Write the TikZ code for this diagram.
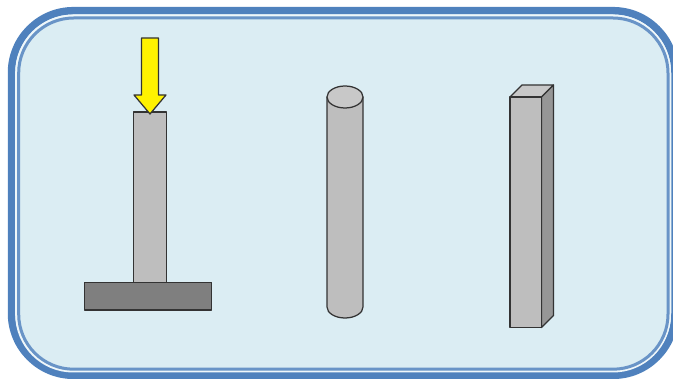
\documentclass[tikz,border=0pt]{standalone}
\begin{document}
\begin{tikzpicture}[x=1pt,y=-1pt,
  edge/.style={draw=black!80,line width=1.25pt,line join=round},
  part/.style={edge,fill=barGray}]
\definecolor{barGray}{HTML}{BEBEBE}
\definecolor{topGray}{HTML}{C8C8C8}
\definecolor{sideGray}{HTML}{969696}
\definecolor{baseGray}{HTML}{7F7F7F}
\definecolor{frameBlue}{HTML}{4F81BD}
\definecolor{panelFill}{HTML}{DBEDF3}
\useasboundingbox (0,0) rectangle (673,379);
\clip (0,0) rectangle (673,379);
% panel
\draw[draw=frameBlue,line width=7.5pt,fill=panelFill,rounded corners=62pt] (11.5,10.7) rectangle (675,375.3);
\draw[draw=white!55!panelFill,line width=2pt,rounded corners=57pt] (16.2,15.5) rectangle (670,371.5);
\draw[draw=frameBlue!85!white,line width=3pt,rounded corners=55pt] (18.7,18) rectangle (668,369.2);
% loaded column
\node[part,inner sep=0pt,outer sep=0pt,anchor=north west,minimum width=33pt,minimum height=172pt] (column) at (133.3,112) {};
\node[edge,fill=baseGray,inner sep=0pt,outer sep=0pt,anchor=north west,minimum width=127pt,minimum height=27.5pt] (base) at (84.5,282.5) {};
\draw[edge,fill=yellow] (141.5,38) -- (158.5,38) -- (158.5,95) -- (166,95) -- (150,114) -- (134,95) -- (141.5,95) -- cycle;
% cylinder
\draw[part] (327,97) -- (327,307) arc[start angle=180,end angle=0,x radius=18,y radius=11] -- (363,97) -- cycle;
\draw[edge,fill=topGray] (345,97) ellipse[x radius=18,y radius=11];
% prism
\draw[edge,fill=topGray] (510,97) -- (522,85) -- (553.5,85) -- (541.5,97) -- cycle;
\draw[edge,fill=sideGray] (541.5,97) -- (553.5,85) -- (553.5,315.5) -- (541.5,327.5) -- cycle;
\draw[part] (510,97) rectangle (541.5,327.5);
\end{tikzpicture}
\end{document}
